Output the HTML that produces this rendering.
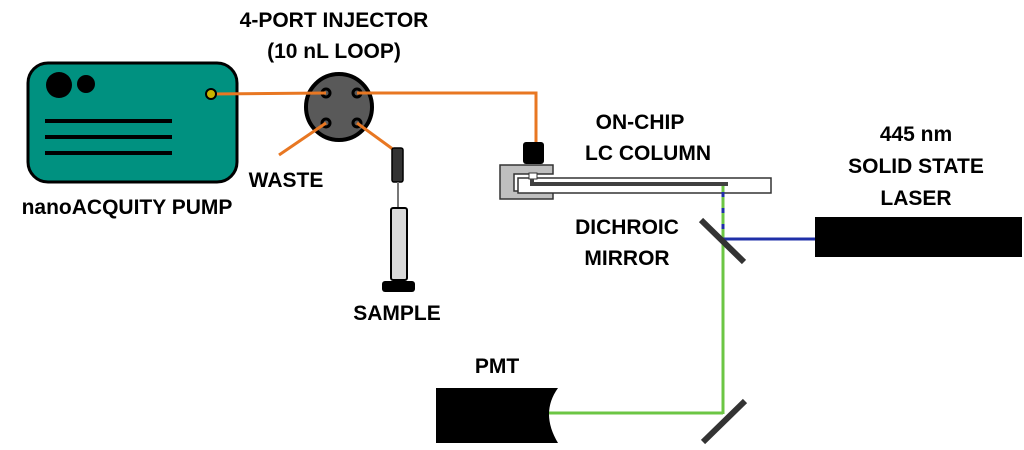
<!DOCTYPE html>
<html><head><style>
html,body{margin:0;padding:0;background:#fff;}
svg{display:block;}
text{font-family:"Liberation Sans",sans-serif;font-weight:bold;font-size:21px;fill:#000;text-anchor:middle;}
</style></head><body>
<svg width="1024" height="450" viewBox="0 0 1024 450">
<!-- pump -->
<rect x="28" y="63" width="209" height="119" rx="20" fill="#009180" stroke="#000" stroke-width="3"/>
<circle cx="59" cy="85" r="13" fill="#000"/>
<circle cx="86" cy="84" r="9" fill="#000"/>
<rect x="45" y="119" width="127" height="4" fill="#000"/>
<rect x="45" y="135" width="127" height="4" fill="#000"/>
<rect x="45" y="151" width="127" height="4" fill="#000"/>
<!-- injector -->
<circle cx="339" cy="107" r="33" fill="#595959" stroke="#000" stroke-width="4"/>
<g fill="#595959" stroke="#000" stroke-width="3">
<circle cx="326" cy="93" r="4"/><circle cx="357" cy="93" r="4"/>
<circle cx="326" cy="123" r="4"/><circle cx="357" cy="123" r="4"/>
</g>
<!-- tubing -->
<g stroke="#e87722" stroke-width="3" fill="none">
<line x1="211" y1="94" x2="326" y2="93"/>
<polyline points="357,93 536,93 536,143"/>
<line x1="326" y1="123" x2="279" y2="155"/>
<line x1="357" y1="123" x2="394" y2="150"/>
</g>
<circle cx="211" cy="94" r="5" fill="#c8b400" stroke="#000" stroke-width="2"/>
<!-- syringe -->
<rect x="392" y="148" width="11" height="34" rx="2" fill="#333" stroke="#000" stroke-width="1.5"/>
<line x1="398" y1="182" x2="398" y2="209" stroke="#777" stroke-width="2"/>
<rect x="391" y="208" width="16" height="72" rx="2" fill="#d9d9d9" stroke="#000" stroke-width="2"/>
<rect x="382" y="281" width="33" height="11" rx="3" fill="#000"/>
<!-- column -->
<rect x="523" y="142" width="21" height="22" rx="3" fill="#000"/>
<path d="M500 165 H553 V174 H514 V191 H553 V199 H500 Z" fill="#bfbfbf" stroke="#333" stroke-width="1.5"/>
<rect x="518" y="178" width="253" height="15" fill="#fff" stroke="#333" stroke-width="1.5"/>
<rect x="529" y="173" width="8" height="6" fill="#fff" stroke="#333" stroke-width="1"/>
<polyline points="532,179 532,184 728,184" fill="none" stroke="#404040" stroke-width="4"/>
<!-- light path -->
<line x1="723" y1="186" x2="723" y2="414" stroke="#6cc644" stroke-width="3"/>
<line x1="723" y1="192" x2="723" y2="238" stroke="#1f2fa8" stroke-width="3" stroke-dasharray="5,11"/>
<line x1="723" y1="239" x2="816" y2="239" stroke="#1f2fa8" stroke-width="3"/>
<line x1="548" y1="413" x2="723" y2="413" stroke="#6cc644" stroke-width="3"/>
<!-- mirrors -->
<line x1="701" y1="220" x2="744" y2="262" stroke="#333" stroke-width="6"/>
<line x1="703" y1="442" x2="745" y2="401" stroke="#333" stroke-width="6"/>
<!-- laser -->
<rect x="815" y="217" width="207" height="40" fill="#000"/>
<!-- PMT -->
<path d="M436 388 H558 Q540 413 558 443 H436 Z" fill="#000"/>
<!-- labels -->
<text x="334" y="27">4-PORT INJECTOR</text>
<text x="334" y="58">(10 nL LOOP)</text>
<text x="286" y="187">WASTE</text>
<text x="127" y="214">nanoACQUITY PUMP</text>
<text x="397" y="320">SAMPLE</text>
<text x="640" y="129">ON-CHIP</text>
<text x="648" y="160">LC COLUMN</text>
<text x="916" y="141">445 nm</text>
<text x="916" y="173">SOLID STATE</text>
<text x="916" y="205">LASER</text>
<text x="627" y="234">DICHROIC</text>
<text x="627" y="265">MIRROR</text>
<text x="497" y="373">PMT</text>
</svg>
</body></html>
